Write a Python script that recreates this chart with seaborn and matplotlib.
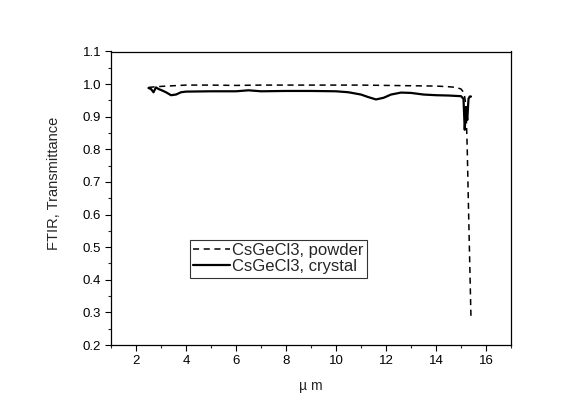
import matplotlib
matplotlib.use("Agg")
import matplotlib.pyplot as plt
import seaborn as sns
import pandas as pd
from matplotlib.ticker import MultipleLocator, FormatStrFormatter

# Data
powder_x = [2.5, 3.0, 3.5, 4.0, 5.0, 6.0, 7.0, 8.0, 9.0, 10.0, 11.0, 12.0, 13.0,
            14.0, 14.5, 14.8, 15.0, 15.1, 15.15, 15.2, 15.25, 15.3, 15.35, 15.4]
powder_y = [0.990, 0.993, 0.995, 0.997, 0.997, 0.996, 0.997, 0.997, 0.997, 0.997,
            0.997, 0.996, 0.995, 0.994, 0.992, 0.990, 0.985, 0.975, 0.96, 0.93,
            0.80, 0.62, 0.45, 0.28]

crystal_x = [2.5, 2.6, 2.7, 2.8, 2.9, 3.0, 3.2, 3.4, 3.6, 3.8, 4.0, 5.0, 6.0, 6.5,
             7.0, 8.0, 9.0, 10.0, 10.5, 11.0, 11.3, 11.6, 11.9, 12.2, 12.6, 13.0,
             13.5, 14.0, 14.5, 15.0, 15.1, 15.15, 15.2, 15.25, 15.3, 15.35, 15.4]
crystal_y = [0.988, 0.985, 0.975, 0.990, 0.985, 0.982, 0.975, 0.966, 0.968, 0.975,
             0.977, 0.978, 0.978, 0.981, 0.978, 0.979, 0.979, 0.978, 0.975, 0.968,
             0.960, 0.953, 0.958, 0.968, 0.974, 0.973, 0.968, 0.966, 0.965, 0.963,
             0.955, 0.86, 0.93, 0.89, 0.955, 0.962, 0.962]

labels = ["CsGeCl3, powder", "CsGeCl3, crystal"]
x_label = "\u00b5 m"
y_label = "FTIR, Transmittance"
x_ticks = [2, 4, 6, 8, 10, 12, 14, 16]

sns.set_style("white")
plt.rcParams['font.family'] = ['Liberation Sans', 'DejaVu Sans']

fig = plt.figure(figsize=(5.85, 4.12), dpi=100)
ax = fig.add_axes([111/585, 1-345/412, 400/585, (345-51.5)/412])

df_p = pd.DataFrame({"x": powder_x, "y": powder_y})
df_c = pd.DataFrame({"x": crystal_x, "y": crystal_y})
sns.lineplot(data=df_p, x="x", y="y", ax=ax, color="black", lw=1.1,
             linestyle=(0, (4, 3)), label=labels[0], sort=False)
sns.lineplot(data=df_c, x="x", y="y", ax=ax, color="black", lw=1.6,
             label=labels[1], sort=False)

ax.set_xlim(1, 17)
ax.set_ylim(0.2, 1.1)
ax.set_xticks(x_ticks)
ax.xaxis.set_minor_locator(MultipleLocator(1))
ax.yaxis.set_major_locator(MultipleLocator(0.1))
ax.yaxis.set_minor_locator(MultipleLocator(0.05))
ax.yaxis.set_major_formatter(FormatStrFormatter('%.1f'))
ax.tick_params(axis='both', which='major', direction='out', length=4, width=0.8,
               labelsize=9.5, colors='black', left=True, bottom=True, pad=3)
ax.tick_params(axis='both', which='minor', direction='out', length=2.5, width=0.8,
               left=True, bottom=True)
for s in ax.spines.values():
    s.set_color('black')
    s.set_linewidth(0.9)

ax.set_xlabel(x_label, fontsize=10, labelpad=9)
ax.set_ylabel(y_label, fontsize=10.5)
ax.yaxis.set_label_coords(-0.125, 0.55)

leg = ax.legend(loc='upper left', bbox_to_anchor=((190-111)/400, (345-240)/293.5),
                frameon=True, fancybox=False, fontsize=12, handlelength=2.2,
                handletextpad=0.1, borderpad=0.2, labelspacing=0.05,
                borderaxespad=0)
leg.get_frame().set_edgecolor('black')
leg.get_frame().set_linewidth(0.8)

fig.savefig("out.png", dpi=100, facecolor='white')
